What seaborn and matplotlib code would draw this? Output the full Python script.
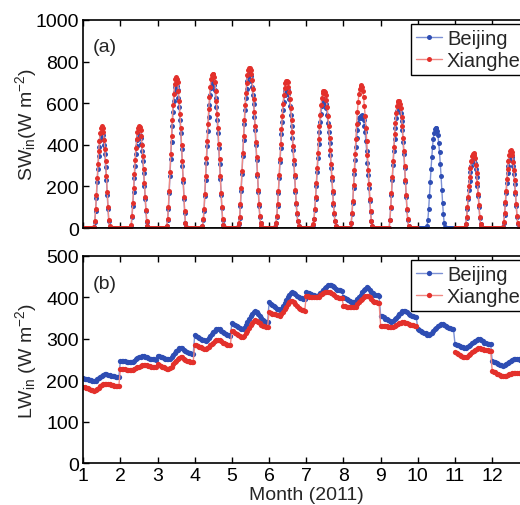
import numpy as np
import pandas as pd
import matplotlib
matplotlib.use("Agg")
import matplotlib.pyplot as plt
import seaborn as sns

# monthly composite diurnal cycles, 2011
months = list(range(1, 13))
stations = ["Beijing", "Xianghe"]

# incoming shortwave (W m-2), half-hourly (48 per month); None = no data
sw_beijing = [
    [0, 0, 0, 0, 0, 0, 0, 0, 0, 0, 0, 0, 0, 0, 4, 30, 80, 145, 220, 285, 345, 390, 425, 447, 455, 447, 430, 398, 355, 295, 230, 160, 90, 35, 6, 0, 0, 0, 0, 0, 0, 0, 0, 0, 0, 0, 0, 0],
    [0, 0, 0, 0, 0, 0, 0, 0, 0, 0, 0, 0, 0, 0, 12, 52, 105, 172, 240, 300, 355, 395, 425, 442, 450, 445, 435, 405, 370, 320, 265, 202, 140, 82, 30, 9, 2, 0, 0, 0, 0, 0, 0, 0, 0, 0, 0, 0],
    [0, 0, 0, 0, 0, 0, 0, 0, 0, 0, 0, 0, 8, 40, 90, 168, 250, 333, 415, 490, 560, 612, 655, 680, 690, 682, 665, 625, 580, 520, 455, 378, 300, 220, 140, 74, 22, 4, 0, 0, 0, 0, 0, 0, 0, 0, 0, 0],
    [0, 0, 0, 0, 0, 0, 0, 0, 0, 0, 8, 38, 80, 152, 230, 312, 395, 468, 535, 592, 640, 675, 695, 702, 700, 688, 665, 625, 580, 520, 455, 383, 310, 235, 160, 95, 40, 13, 3, 0, 0, 0, 0, 0, 0, 0, 0, 0],
    [0, 0, 0, 0, 0, 0, 0, 0, 4, 20, 50, 108, 180, 262, 345, 422, 500, 565, 625, 670, 705, 728, 740, 738, 730, 708, 680, 640, 595, 535, 470, 398, 325, 250, 175, 108, 55, 22, 7, 2, 0, 0, 0, 0, 0, 0, 0, 0],
    [0, 0, 0, 0, 0, 0, 0, 0, 5, 22, 55, 108, 170, 242, 315, 385, 450, 512, 565, 607, 640, 660, 670, 670, 665, 645, 620, 585, 545, 492, 435, 373, 310, 243, 175, 116, 65, 32, 10, 3, 0, 0, 0, 0, 0, 0, 0, 0],
    [0, 0, 0, 0, 0, 0, 0, 0, 4, 16, 42, 86, 140, 204, 270, 338, 405, 460, 510, 550, 585, 608, 620, 620, 615, 598, 575, 543, 505, 460, 410, 352, 290, 230, 170, 113, 65, 32, 11, 3, 0, 0, 0, 0, 0, 0, 0, 0],
    [0, 0, 0, 0, 0, 0, 0, 0, 0, 0, 22, 65, 120, 190, 260, 325, 390, 435, 470, 505, 530, 532, 530, 538, 545, 535, 520, 492, 460, 418, 370, 314, 255, 192, 130, 76, 32, 9, 2, 0, 0, 0, 0, 0, 0, 0, 0, 0],
    [0, 0, 0, 0, 0, 0, 0, 0, 0, 0, 0, 0, 38, 95, 160, 232, 305, 370, 430, 482, 530, 562, 580, 588, 590, 575, 555, 515, 470, 414, 355, 288, 220, 150, 85, 40, 11, 2, 0, 0, 0, 0, 0, 0, 0, 0, 0, 0],
    [0, 0, 0, 0, 0, 0, 0, 0, 0, 0, 0, 0, 8, 40, 90, 155, 220, 282, 340, 390, 430, 458, 475, 480, 480, 465, 445, 408, 365, 310, 250, 185, 120, 65, 25, 6, 0, 0, 0, 0, 0, 0, 0, 0, 0, 0, 0, 0],
    [0, 0, 0, 0, 0, 0, 0, 0, 0, 0, 0, 0, 0, 0, 18, 50, 92, 138, 185, 228, 270, 298, 320, 330, 335, 326, 312, 282, 245, 200, 152, 100, 50, 18, 3, 0, 0, 0, 0, 0, 0, 0, 0, 0, 0, 0, 0, 0],
    [0, 0, 0, 0, 0, 0, 0, 0, 0, 0, 0, 0, 0, 0, 4, 26, 64, 116, 168, 218, 265, 300, 327, 344, 350, 342, 327, 297, 260, 213, 162, 106, 55, 20, 2, 0, 0, 0, 0, 0, 0, 0, 0, 0, 0, 0, 0, 0],
]
sw_xianghe = [
    [0, 0, 0, 0, 0, 0, 0, 0, 0, 0, 0, 0, 0, 0, 5, 35, 90, 160, 240, 310, 370, 420, 455, 480, 490, 480, 460, 425, 380, 320, 250, 175, 100, 40, 8, 0, 0, 0, 0, 0, 0, 0, 0, 0, 0, 0, 0, 0],
    [0, 0, 0, 0, 0, 0, 0, 0, 0, 0, 0, 0, 0, 0, 15, 60, 120, 190, 260, 325, 385, 428, 460, 480, 490, 484, 470, 440, 400, 345, 285, 218, 150, 88, 35, 10, 2, 0, 0, 0, 0, 0, 0, 0, 0, 0, 0, 0],
    [0, 0, 0, 0, 0, 0, 0, 0, 0, 0, 0, 0, 10, 45, 100, 180, 270, 355, 440, 520, 590, 645, 690, 715, 725, 718, 700, 660, 610, 548, 480, 400, 320, 235, 150, 80, 25, 5, 0, 0, 0, 0, 0, 0, 0, 0, 0, 0],
    [0, 0, 0, 0, 0, 0, 0, 0, 0, 0, 10, 42, 90, 165, 250, 335, 420, 500, 570, 630, 680, 715, 735, 742, 740, 725, 700, 660, 610, 548, 480, 405, 330, 250, 170, 100, 45, 15, 3, 0, 0, 0, 0, 0, 0, 0, 0, 0],
    [0, 0, 0, 0, 0, 0, 0, 0, 5, 22, 55, 115, 190, 275, 360, 440, 520, 590, 650, 698, 735, 760, 770, 768, 760, 738, 710, 668, 620, 558, 490, 415, 340, 262, 185, 115, 60, 25, 8, 2, 0, 0, 0, 0, 0, 0, 0, 0],
    [0, 0, 0, 0, 0, 0, 0, 0, 6, 25, 60, 115, 180, 255, 330, 405, 475, 540, 595, 640, 675, 695, 705, 705, 700, 680, 655, 618, 575, 520, 460, 395, 325, 255, 185, 122, 70, 35, 12, 3, 0, 0, 0, 0, 0, 0, 0, 0],
    [0, 0, 0, 0, 0, 0, 0, 0, 4, 18, 45, 92, 150, 218, 290, 360, 430, 490, 545, 590, 625, 648, 660, 660, 655, 638, 615, 580, 540, 490, 435, 375, 310, 245, 180, 120, 70, 35, 12, 3, 0, 0, 0, 0, 0, 0, 0, 0],
    [0, 0, 0, 0, 0, 0, 0, 0, 0, 0, 25, 70, 130, 205, 280, 355, 430, 498, 560, 607, 645, 670, 685, 686, 680, 658, 630, 588, 540, 482, 420, 352, 280, 210, 140, 82, 35, 10, 2, 0, 0, 0, 0, 0, 0, 0, 0, 0],
    [0, 0, 0, 0, 0, 0, 0, 0, 0, 0, 0, 0, 40, 100, 170, 245, 320, 388, 450, 505, 555, 585, 605, 612, 610, 596, 575, 535, 490, 432, 370, 300, 230, 158, 90, 42, 12, 2, 0, 0, 0, 0, 0, 0, 0, 0, 0, 0],
    None,
    [0, 0, 0, 0, 0, 0, 0, 0, 0, 0, 0, 0, 0, 0, 20, 55, 100, 150, 200, 247, 290, 322, 345, 356, 360, 350, 335, 303, 265, 217, 165, 110, 55, 20, 3, 0, 0, 0, 0, 0, 0, 0, 0, 0, 0, 0, 0, 0],
    [0, 0, 0, 0, 0, 0, 0, 0, 0, 0, 0, 0, 0, 0, 5, 30, 70, 125, 180, 235, 285, 322, 350, 368, 375, 366, 350, 318, 280, 230, 175, 115, 60, 22, 2, 0, 0, 0, 0, 0, 0, 0, 0, 0, 0, 0, 0, 0],
]

# incoming longwave (W m-2), hourly (24 per month)
lw_beijing = [
    [205, 204, 203, 202, 201, 200, 198, 198, 199, 202, 205, 208, 211, 213, 214, 214, 213, 212, 211, 210, 209, 208, 208, 207],
    [247, 247, 246, 246, 245, 245, 244, 244, 245, 247, 250, 253, 255, 257, 258, 258, 257, 255, 253, 252, 251, 250, 250, 249],
    [259, 258, 257, 256, 254, 252, 251, 250, 252, 256, 261, 266, 270, 274, 277, 278, 277, 274, 271, 268, 266, 265, 264, 263],
    [309, 307, 305, 303, 300, 298, 296, 295, 297, 301, 306, 311, 316, 320, 323, 324, 323, 320, 316, 313, 311, 309, 308, 307],
    [338, 336, 334, 331, 328, 326, 324, 324, 327, 333, 340, 347, 354, 360, 364, 366, 365, 361, 355, 350, 346, 343, 341, 340],
    [388, 385, 382, 379, 376, 373, 371, 370, 373, 379, 386, 393, 400, 406, 410, 412, 411, 408, 404, 401, 399, 398, 397, 396],
    [412, 411, 410, 408, 407, 405, 404, 404, 406, 410, 414, 418, 422, 426, 429, 430, 429, 427, 424, 421, 419, 418, 417, 416],
    [400, 398, 396, 394, 392, 390, 389, 388, 390, 395, 401, 407, 412, 417, 421, 424, 423, 419, 414, 410, 407, 406, 405, 404],
    [356, 354, 352, 349, 347, 345, 342, 341, 343, 347, 351, 355, 359, 363, 366, 368, 367, 364, 360, 357, 355, 354, 353, 352],
    [324, 322, 320, 317, 315, 313, 310, 309, 311, 315, 319, 323, 327, 331, 334, 336, 335, 333, 330, 328, 326, 325, 324, 324],
    [287, 286, 284, 283, 281, 280, 278, 277, 279, 282, 285, 289, 292, 295, 298, 300, 299, 297, 294, 291, 289, 288, 287, 287],
    [247, 245, 243, 241, 239, 237, 236, 235, 236, 239, 242, 245, 247, 249, 250, 251, 251, 250, 249, 248, 247, 246, 246, 245],
]
lw_xianghe = [
    [184, 183, 182, 180, 178, 177, 176, 175, 176, 179, 182, 185, 188, 190, 191, 192, 191, 190, 189, 188, 187, 187, 186, 186],
    [227, 227, 226, 226, 225, 225, 224, 224, 225, 227, 229, 231, 233, 235, 236, 237, 237, 236, 235, 234, 233, 233, 232, 232],
    [239, 237, 235, 233, 231, 229, 228, 227, 229, 233, 238, 243, 247, 251, 254, 256, 255, 252, 249, 247, 246, 245, 244, 244],
    [285, 284, 282, 280, 279, 277, 276, 275, 277, 280, 284, 288, 291, 294, 296, 297, 296, 294, 291, 289, 287, 286, 286, 285],
    [320, 318, 315, 312, 309, 307, 305, 304, 307, 313, 320, 327, 334, 339, 343, 345, 344, 341, 337, 334, 331, 330, 329, 328],
    [364, 363, 361, 360, 359, 358, 357, 356, 359, 365, 371, 377, 383, 388, 391, 392, 390, 385, 379, 375, 372, 370, 369, 368],
    [404, 403, 402, 401, 401, 400, 400, 400, 402, 405, 408, 411, 413, 414, 414, 413, 411, 408, 405, 402, 400, 399, 398, 398],
    [380, 379, 378, 378, 377, 377, 376, 376, 378, 383, 388, 393, 397, 401, 403, 404, 403, 400, 396, 392, 389, 388, 387, 386],
    [332, 331, 331, 330, 330, 329, 328, 328, 329, 331, 333, 335, 337, 339, 340, 340, 339, 338, 336, 334, 333, 333, 332, 332],
    None,
    [267, 265, 263, 261, 259, 257, 256, 255, 257, 260, 264, 268, 271, 274, 276, 277, 277, 276, 275, 274, 273, 272, 271, 271],
    [223, 221, 219, 216, 214, 212, 210, 209, 210, 211, 213, 214, 216, 217, 218, 218, 218, 217, 217, 216, 216, 215, 215, 215],
]

marker_colors = {"Beijing": "#2e4db3", "Xianghe": "#e3302b"}
line_colors = {"Beijing": "#7b90d4", "Xianghe": "#f08883"}


def to_frame(monthly):
    # x = month + fraction of the day; a month with no data breaks the line
    rows = []
    seg = 0
    for m, day in zip(months, monthly):
        if day is None:
            seg += 1
            continue
        n = len(day)
        for k, v in enumerate(day):
            rows.append({"x": m + k / n, "value": v, "seg": seg})
    return pd.DataFrame(rows)


def draw(ax, series, ms):
    for name in stations:
        df = to_frame(series[name])
        for i, (seg, part) in enumerate(df.groupby("seg")):
            sns.lineplot(data=part, x="x", y="value", ax=ax, estimator=None, sort=False,
                         color=line_colors[name], lw=1.0, marker="o", markersize=ms,
                         markerfacecolor=marker_colors[name], markeredgecolor=marker_colors[name],
                         markeredgewidth=0, label=name if i == 0 else None)


sns.set_style("ticks")
plt.rcParams["font.family"] = ["Liberation Sans", "DejaVu Sans"]
plt.rcParams["mathtext.default"] = "regular"

fig = plt.figure(figsize=(5.2, 5.06), dpi=100)
ax1 = fig.add_axes([0.160, 0.5474, 0.858, 0.4111])
ax2 = fig.add_axes([0.160, 0.0830, 0.858, 0.4091])

ax1.axhline(0, color="black", lw=1.8, zorder=1)
draw(ax1, {"Beijing": sw_beijing, "Xianghe": sw_xianghe}, 3.6)
draw(ax2, {"Beijing": lw_beijing, "Xianghe": lw_xianghe}, 3.8)

for ax, ymax, step, tag, ty in [(ax1, 1000, 200, "(a)", 0.875), (ax2, 500, 100, "(b)", 0.865)]:
    ax.set_xlim(1, 13)
    ax.set_ylim(0, ymax)
    ax.set_xticks(months)
    ax.set_yticks(range(0, ymax + 1, step))
    ax.tick_params(direction="in", top=True, right=True, length=4, width=1,
                   labelsize=14, colors="black", pad=3)
    for sp in ax.spines.values():
        sp.set_linewidth(1.2)
        sp.set_color("black")
    ax.text(0.022, ty, tag, transform=ax.transAxes, fontsize=14, va="center", ha="left")
    leg = ax.legend(loc="upper left", bbox_to_anchor=(0.734, 0.98), fontsize=14.5,
                    frameon=True, fancybox=False, framealpha=1, edgecolor="black",
                    borderaxespad=0, borderpad=0.25, labelspacing=0.15,
                    handlelength=1.3, handletextpad=0.25)
    leg.get_frame().set_linewidth(1.0)

ax1.set_xlabel("")
ax1.tick_params(labelbottom=False)
ax1.set_ylabel(r"SW$_{in}$(W m$^{-2}$)", fontsize=14)
ax2.set_ylabel(r"LW$_{in}$ (W m$^{-2}$)", fontsize=14)
ax2.set_xlabel("Month (2011)", fontsize=14, labelpad=1)
ax1.yaxis.set_label_coords(-0.098, 0.5)
ax2.yaxis.set_label_coords(-0.098, 0.5)

fig.savefig("out.png", dpi=100)
